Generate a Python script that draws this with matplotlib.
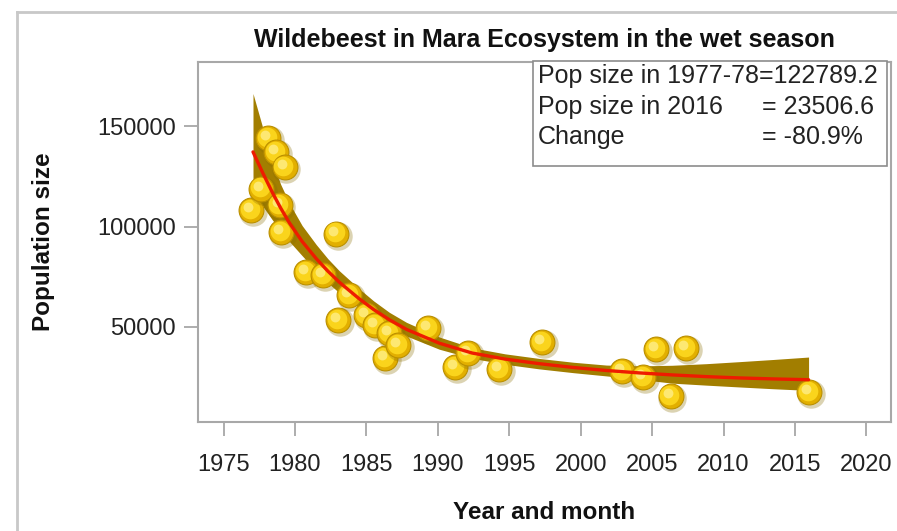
import matplotlib
matplotlib.use("Agg")
import matplotlib.pyplot as plt
import matplotlib.transforms as mtransforms
from matplotlib.lines import Line2D

plt.rcParams['font.family'] = ['Liberation Sans', 'DejaVu Sans']

# observed counts (year, population)
years = [1976.94, 1977.64, 1978.1, 1978.7, 1978.93, 1979.04, 1979.27, 1980.79,
         1981.96, 1982.9, 1983.0, 1983.8, 1985.0, 1985.6, 1986.3, 1986.6,
         1987.2, 1989.3, 1991.2, 1992.1, 1994.3, 1997.3, 2002.9, 2004.35,
         2005.3, 2006.3, 2007.4, 2016.0]
pop = [108100, 118900, 143900, 137200, 110600, 97300, 129700, 77400,
       75700, 96500, 53300, 66000, 55800, 50800, 34300, 46800,
       40900, 49300, 29900, 36900, 28900, 42400, 27900, 24900,
       38900, 15400, 39400, 17400]

# fitted trend and its confidence band
fit_years = [1977.06, 1977.76, 1978.45, 1979.0, 1979.62, 1980.5, 1981.49, 1982.3,
             1983.1, 1984.5, 1985.5, 1986.6, 1987.8, 1990.1, 1992.4, 1994.7,
             1997.1, 1999.5, 2001.8, 2004.1, 2006.4, 2008.8, 2011.1, 2013.5, 2015.95]
fit_pop = [137200, 126500, 116500, 109200, 101700, 92600, 84000, 77800,
           72300, 64000, 58700, 53600, 48800, 41900, 37000, 34000,
           31700, 29800, 28300, 27100, 26100, 25250, 24600, 24100, 23700]
band_lo = [118000, 110000, 103000, 98000, 92500, 85500, 77700, 72000,
           67000, 59500, 54700, 50000, 45500, 38900, 34400, 31400,
           29100, 27200, 25600, 23900, 22000, 21000, 20100, 19200, 18400]
band_hi = [166300, 148800, 131500, 121000, 111500, 100500, 91000, 84000,
           78000, 69000, 63000, 57300, 52300, 45000, 39600, 36600,
           34300, 32400, 31000, 30600, 30900, 31700, 32700, 33800, 35000]

x_ticks = [1975, 1980, 1985, 1990, 1995, 2000, 2005, 2010, 2015, 2020]
y_ticks = [50000, 100000, 150000]

W, H = 897, 531
fig = plt.figure(figsize=(W / 100, H / 100), dpi=100)

# thin frame around the whole graphic (left and top edges visible)
fig.add_artist(Line2D([17 / W, 17 / W], [0, 1 - 12 / H], color='#c8c8c8', lw=2))
fig.add_artist(Line2D([17 / W, 1], [1 - 12 / H, 1 - 12 / H], color='#c8c8c8', lw=2))

ax = fig.add_axes([198 / W, 1 - 422 / H, (891 - 198) / W, (422 - 62) / H])
ax.set_xlim(1973.21, 2021.72)
ax.set_ylim(2640, 182000)

# confidence band
ax.fill_between(fit_years, band_lo, band_hi, color='#A27E00', lw=0, zorder=2)

# shaded "sphere" markers
shadow = mtransforms.offset_copy(ax.transData, fig=fig, x=1.2, y=-1.4, units='points')
mid = mtransforms.offset_copy(ax.transData, fig=fig, x=-0.9, y=0.9, units='points')
hl = mtransforms.offset_copy(ax.transData, fig=fig, x=-2.2, y=2.2, units='points')
for i in range(len(years)):
    z = 3 + i * 0.01
    ax.scatter(years[i], pop[i], s=420, color='#8a6e00', alpha=0.3, lw=0,
               transform=shadow, zorder=z)
    ax.scatter(years[i], pop[i], s=320, color='#E2AF00', edgecolor='#BB9000',
               lw=0.8, zorder=z)
    ax.scatter(years[i], pop[i], s=200, color='#FAD41C', lw=0,
               transform=mid, zorder=z)
    ax.scatter(years[i], pop[i], s=50, color='#FFEE88', lw=0, alpha=0.8,
               transform=hl, zorder=z)

# fitted line
ax.plot(fit_years, fit_pop, color='#EE1C00', lw=2.4, zorder=4, solid_capstyle='round')

ax.set_xticks(x_ticks)
ax.set_yticks(y_ticks)
ax.tick_params(direction='out', length=10, width=1.2, color='#a0a0a0',
               labelsize=17, labelcolor='#222222')
ax.tick_params(axis='x', pad=13)
ax.tick_params(axis='y', pad=6)
for sp in ax.spines.values():
    sp.set_color('#a8a8a8')
    sp.set_linewidth(1.5)

fig.text(544 / W, 1 - 40 / H, 'Wildebeest in Mara Ecosystem in the wet season',
         fontsize=18, fontweight='bold', color='#111111', ha='center', va='center')
ax.set_xlabel('Year and month', fontsize=17.5, fontweight='bold', color='#111111')
ax.set_ylabel('Population size', fontsize=17.5, fontweight='bold', color='#111111')
ax.xaxis.set_label_coords(0.5, -0.22)
ax.yaxis.set_label_coords(-0.207, 0.5)

# statistics box
box_l, box_b, box_r, box_t = 533 / W, 1 - 166 / H, 887 / W, 1 - 61 / H
fig.add_artist(plt.Rectangle((box_l, box_b), box_r - box_l, box_t - box_b,
                             transform=fig.transFigure, facecolor='white',
                             edgecolor='#8c8c8c', lw=1.2, zorder=5))
rows_y = [76, 107, 137]
txt = dict(fontsize=18, color='#222222', va='center', zorder=6)
fig.text(538 / W, 1 - rows_y[0] / H, 'Pop size in 1977-78=122789.2', **txt)
fig.text(538 / W, 1 - rows_y[1] / H, 'Pop size in 2016', **txt)
fig.text(762 / W, 1 - rows_y[1] / H, '= 23506.6', **txt)
fig.text(538 / W, 1 - rows_y[2] / H, 'Change', **txt)
fig.text(762 / W, 1 - rows_y[2] / H, '= -80.9%', **txt)

fig.savefig('out.png', dpi=100)
